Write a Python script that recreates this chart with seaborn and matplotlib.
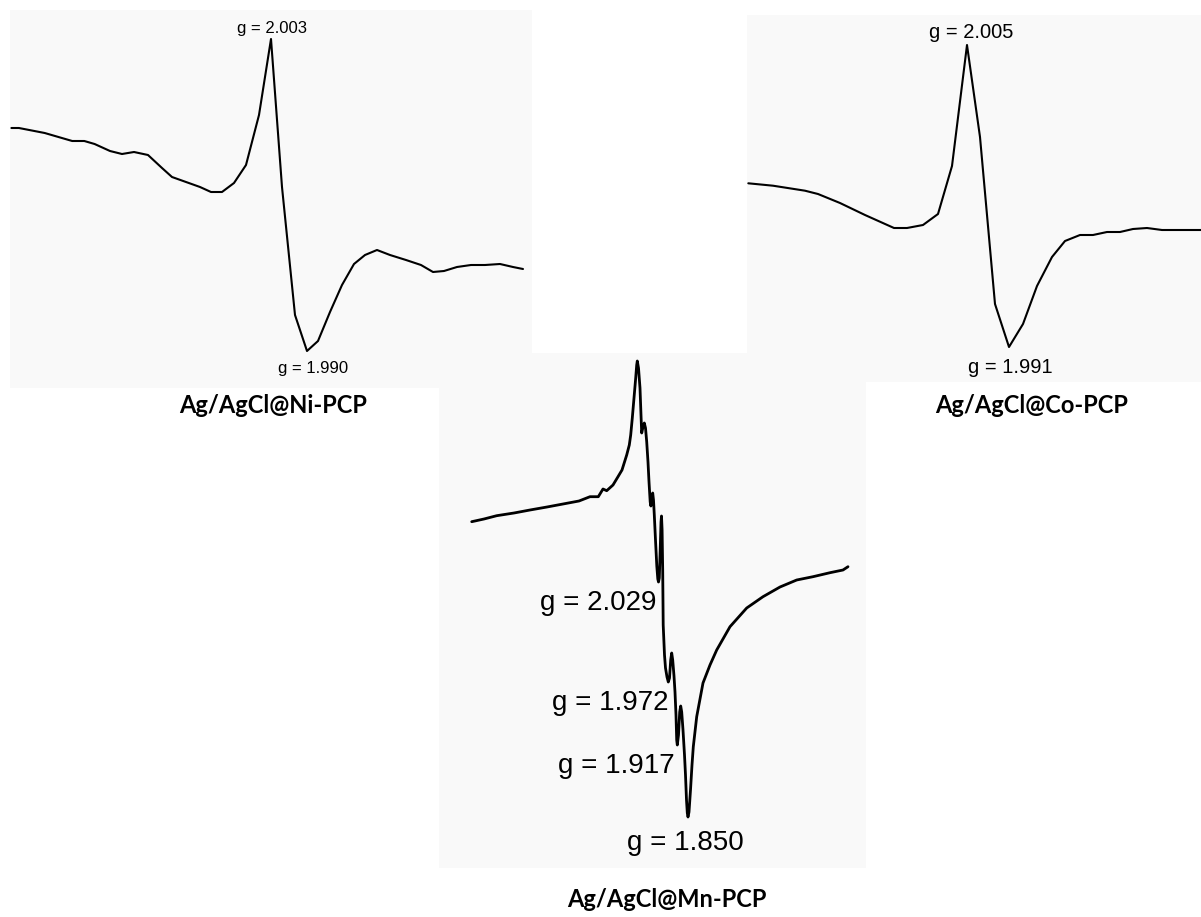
import matplotlib
matplotlib.use("Agg")
import matplotlib.pyplot as plt
import seaborn as sns
import pandas as pd

sns.set_theme(style="white")
plt.rcParams['font.family'] = ['Liberation Sans', 'DejaVu Sans']

# ---------------- data (field position, signal height) ----------------
ni_field = [1.4, 8.9, 34.7, 62.2, 74.3, 84.6, 100, 112, 124, 138, 152, 162, 176, 190, 201, 212,
            224, 236, 249, 261, 272, 285, 297, 308, 320, 332, 344, 355, 367, 380, 396, 411,
            423, 434, 447, 461, 475, 490, 503, 513]
ni_signal = [260, 260, 255, 247, 247, 244, 237, 234, 236, 233, 220, 211, 206, 201, 196, 196,
             205, 223, 273, 349, 201, 73, 37, 47, 76, 103, 124, 133, 138, 133, 128, 123,
             116, 117, 121, 123, 123, 124, 121, 119]

co_field = [1.3, 26, 58, 71, 93, 118, 147, 160, 176, 191, 205, 220, 233, 248, 262, 276,
            290, 305, 318, 333, 346, 360, 373, 386, 400, 415, 426, 454]
co_signal = [198.7, 196.3, 191.3, 188, 179, 167, 154, 154, 157, 168, 216, 337, 245, 78, 35, 58,
             96, 125, 141, 147, 147, 150, 150, 153, 154, 152, 152, 152]

mn_field = [32.7, 45, 57.7, 75, 91, 108, 124, 140, 151, 159.3, 164, 167.7, 174, 179, 183,
            187.7, 190.3, 191.7, 193.3, 195, 196.7, 197.7, 198.3, 199.5, 201, 202, 202.7,
            204, 205.3, 206.5, 207.7, 209, 210, 211.2, 211.9, 212.7, 213.7, 214.5, 215.3,
            216.5, 217.8, 218.8, 219.5, 220.3, 221.2, 222, 222.5, 223.1, 223.7, 224.2, 225.5,
            226.5, 228, 229.3, 230.5, 231.7, 232.7, 233.7, 235, 236, 237, 237.7, 238.3, 239.5,
            240.7, 241.7, 242.7, 244, 245.5, 246.5, 247.5, 248.3, 249, 250, 251.5, 253, 254.3,
            257.7, 264, 271, 277.7, 291, 307.7, 324, 341, 357.7, 374, 391, 404, 409]
mn_signal = [346.3, 349, 352.3, 355, 358, 361, 364, 367, 371.3, 371.3, 379, 377.3, 383, 391.3,
             398, 413, 423, 433, 450, 470, 490, 503, 507, 500, 480, 453, 435,
             441, 445, 440, 426.3, 406, 386.3, 366, 362, 368, 375, 368, 353,
             328, 302, 289, 286, 290, 318, 346, 352, 338, 298, 243, 213,
             200, 191, 186, 190, 208, 215, 208, 192, 176, 153, 128, 123, 133,
             156, 162, 156, 138, 113, 93, 68, 55, 51, 56, 78, 103, 121.3,
             151.3, 185, 203, 218, 241.3, 260, 271.3, 281, 288, 291.3, 295.3, 298, 301.3]

ni_labels = ["g = 2.003", "g = 1.990"]
co_labels = ["g = 2.005", "g = 1.991"]
mn_labels = ["g = 2.029", "g = 1.972", "g = 1.917", "g = 1.850"]
captions = ["Ag/AgCl@Ni-PCP", "Ag/AgCl@Co-PCP", "Ag/AgCl@Mn-PCP"]

# ---------------- layout ----------------
W, H = 1201, 917
fig = plt.figure(figsize=(W / 100, H / 100), dpi=100)
fig.patch.set_facecolor('white')


def make_panel(x0, y0, x1, y1, field, signal, lw):
    ax = fig.add_axes([x0 / W, 1 - y1 / H, (x1 - x0) / W, (y1 - y0) / H])
    ax.set_facecolor('#f9f9f9')
    df = pd.DataFrame({'field': field, 'signal': signal})
    sns.lineplot(data=df, x='field', y='signal', sort=False, color='black',
                 linewidth=lw, ax=ax, estimator=None,
                 solid_joinstyle='round', solid_capstyle='round')
    ax.set_xlim(0, x1 - x0)
    ax.set_ylim(0, y1 - y0)
    ax.set_xticks([])
    ax.set_yticks([])
    ax.set_xlabel('')
    ax.set_ylabel('')
    for s in ax.spines.values():
        s.set_visible(False)
    return ax


ax_co = make_panel(747, 15, 1201, 382, co_field, co_signal, 1.5)
ax_ni = make_panel(10, 10, 532, 388, ni_field, ni_signal, 1.5)
ax_mn = make_panel(439, 353, 866, 868, mn_field, mn_signal, 2.0)

# Ni labels
ax_ni.text(262, 355, ni_labels[0], ha='center', va='baseline', fontsize=12, color='black')
ax_ni.text(303, 15, ni_labels[1], ha='center', va='baseline', fontsize=12, color='black')
# Co labels
ax_co.text(224, 344, co_labels[0], ha='center', va='baseline', fontsize=14.5, color='black')
ax_co.text(263, 9, co_labels[1], ha='center', va='baseline', fontsize=14.5, color='black')
# Mn labels
ax_mn.text(218, 258, mn_labels[0], ha='right', va='baseline', fontsize=20, color='black')
ax_mn.text(229, 158, mn_labels[1], ha='right', va='baseline', fontsize=20, color='black')
ax_mn.text(236, 95, mn_labels[2], ha='right', va='baseline', fontsize=20, color='black')
ax_mn.text(246, 18, mn_labels[3], ha='center', va='baseline', fontsize=20, color='black')

# captions
cap_kw = dict(ha='center', va='baseline', fontsize=17, fontweight='bold',
              family=['Lato', 'DejaVu Sans'], color='black')
fig.text(273 / W, 1 - 413 / H, captions[0], **cap_kw)
fig.text(1032 / W, 1 - 413 / H, captions[1], **cap_kw)
fig.text(667 / W, 1 - 907 / H, captions[2], **cap_kw)

fig.savefig('out.png', dpi=100)
